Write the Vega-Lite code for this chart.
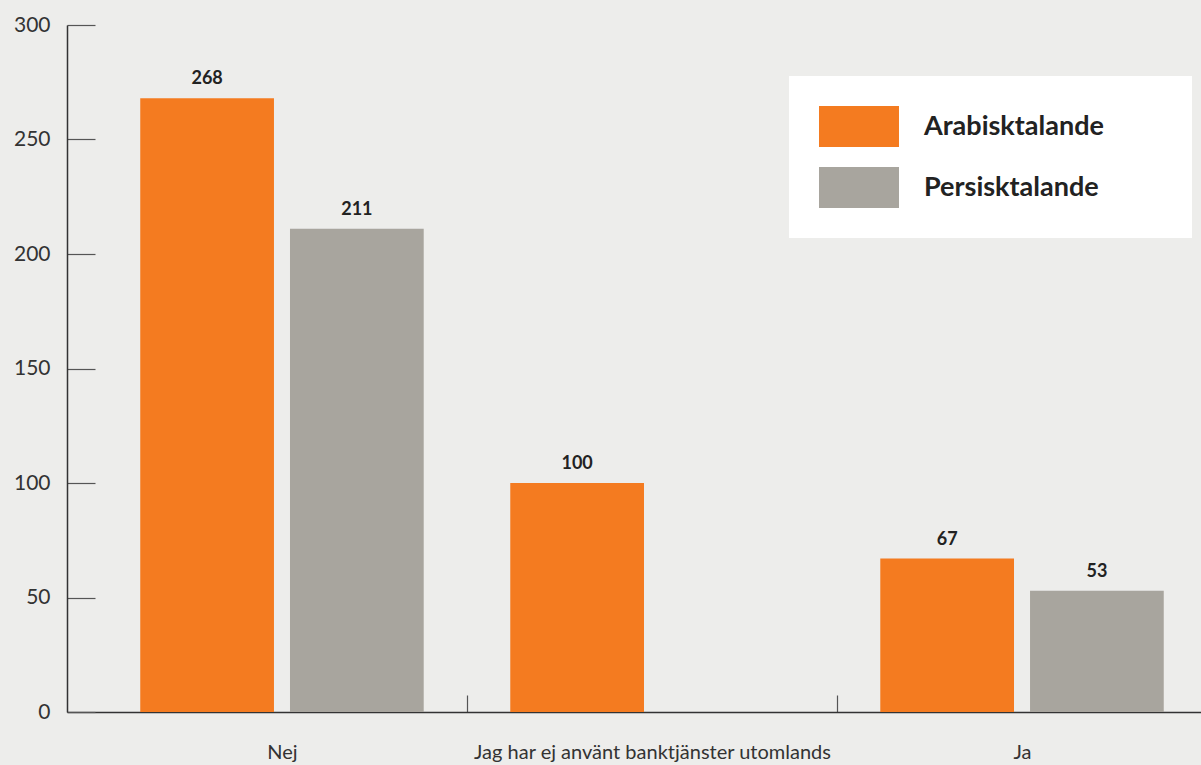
{
  "$schema": "https://vega.github.io/schema/vega-lite/v6.json",
  "width": 1170,
  "height": 687,
  "autosize": {"type": "none"},
  "padding": {"left": 67, "top": 25, "right": 0, "bottom": 53},
  "background": "#EDEDEB",
  "config": {"view": {"stroke": null}, "font": "Lato"},
  "data": {
    "values": [
      {"svar": "Nej", "grupp": "Arabisktalande", "antal": 268},
      {"svar": "Nej", "grupp": "Persisktalande", "antal": 211},
      {"svar": "Jag har ej använt banktjänster utomlands", "grupp": "Arabisktalande", "antal": 100},
      {"svar": "Ja", "grupp": "Arabisktalande", "antal": 67},
      {"svar": "Ja", "grupp": "Persisktalande", "antal": 53}
    ]
  },
  "encoding": {
    "x": {
      "field": "svar",
      "type": "nominal",
      "sort": ["Nej", "Jag har ej använt banktjänster utomlands", "Ja"],
      "scale": {"paddingInner": 0, "paddingOuter": 0.081},
      "axis": {
        "title": null,
        "labelAngle": 0,
        "labelFontSize": 20,
        "labelColor": "#333333",
        "labelPadding": 47,
        "tickBand": "extent",
        "tickSize": -17,
        "tickColor": "#555555",
        "tickWidth": 1.2,
        "tickOpacity": {"condition": {"test": "datum.extra || datum.index < 0", "value": 0}, "value": 1},
        "domainColor": "#333333",
        "domainWidth": 1.5,
        "labelLimit": 500
      }
    },
    "xOffset": {
      "field": "grupp",
      "type": "nominal",
      "scale": {"paddingInner": 0.107, "paddingOuter": 0.289}
    },
    "y": {
      "field": "antal",
      "type": "quantitative",
      "scale": {"domain": [0, 300], "nice": false},
      "axis": {
        "title": null,
        "grid": false,
        "values": [0, 50, 100, 150, 200, 250, 300],
        "labelFontSize": 21,
        "labelColor": "#333333",
        "labelPadding": 45,
        "tickSize": -28,
        "tickColor": "#555555",
        "tickWidth": 1.2,
        "domainColor": "#333333",
        "domainWidth": 1.5
      }
    }
  },
  "layer": [
    {
      "mark": {"type": "bar"},
      "encoding": {
        "color": {
          "field": "grupp",
          "type": "nominal",
          "scale": {"domain": ["Arabisktalande", "Persisktalande"], "range": ["#F47B20", "#A8A59E"]},
          "legend": {
            "title": "\u00a0",
            "titleOrient": "right",
            "titleFontSize": 1,
            "titlePadding": 58,
            "orient": "none",
            "legendX": 722,
            "legendY": 51,
            "fillColor": "#FFFFFF",
            "padding": 30,
            "symbolType": "M-1.951,-1H1.951V1H-1.951Z",
            "symbolSize": 1681,
            "symbolOffset": 19.5,
            "symbolStrokeWidth": 0,
            "symbolOpacity": 1,
            "rowPadding": 20,
            "labelFontSize": 27,
            "labelFontWeight": "bold",
            "labelColor": "#222222",
            "labelOffset": 44.5,
            "labelLimit": 400
          }
        }
      }
    },
    {
      "mark": {"type": "text", "baseline": "alphabetic", "dy": -14, "fontSize": 18, "fontWeight": "bold", "color": "#222222"},
      "encoding": {
        "text": {"field": "antal", "type": "quantitative"}
      }
    }
  ]
}
